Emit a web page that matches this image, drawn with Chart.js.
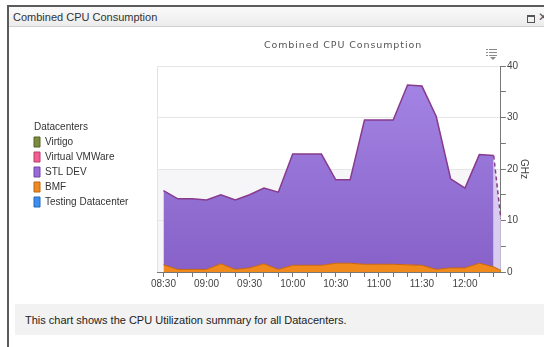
<!DOCTYPE html>
<html>
<head>
<meta charset="utf-8">
<title>Combined CPU Consumption</title>
<script src="https://cdn.jsdelivr.net/npm/chart.js@4.4.1/dist/chart.umd.min.js"></script>
<style>
  html, body { margin: 0; padding: 0; background: #fff; }
  body { width: 544px; height: 347px; overflow: hidden; position: relative; font-family: 'Liberation Sans', Arial, sans-serif; }
  .panel { position: absolute; left: 7px; top: 5px; width: 560px; height: 360px; border-left: 2px solid #5b5b5b; border-top: 2px solid #5b5b5b; }
  .panel-head { position: absolute; left: 0; top: 0; width: 100%; height: 19px; background: linear-gradient(#fafafa, #ececec); border-bottom: 1px solid #d0d0d0; }
  .panel-head span { position: absolute; left: 4px; top: 0; line-height: 20px; font-size: 11px; color: #333; }
  .btn-max { position: absolute; left: 518px; top: 8px; width: 6px; height: 5px; border: 1px solid #555; border-top-width: 2px; }
  .btn-close { position: absolute; left: 529px; top: 2px; font-size: 12px; color: #555; line-height: 16px; }
  #wrap { position: absolute; left: 10px; top: 28px; width: 534px; height: 272px; }
  .menu { position: absolute; left: 486px; top: 49px; }
  .footer { position: absolute; left: 15px; top: 304px; width: 540px; height: 31px; background: #f2f2f2; }
  .footer span { position: absolute; left: 10px; top: 0; line-height: 33px; font-size: 11px; color: #222; }
</style>
</head>
<body>
<div class="panel">
  <div class="panel-head"><span>Combined CPU Consumption</span><div class="btn-max"></div><div class="btn-close">&#x2715;</div></div>
</div>
<div id="wrap"><canvas id="cpu-chart" width="534" height="272"></canvas></div>
<svg class="menu" width="12" height="11" viewBox="0 0 12 11">
  <g fill="#8a8a8a">
    <rect x="0" y="0" width="2" height="1"/><rect x="3" y="0" width="8" height="1"/>
    <rect x="0" y="3" width="2" height="1"/><rect x="3" y="3" width="8" height="1"/>
    <rect x="0" y="6" width="2" height="1"/><rect x="3" y="6" width="8" height="1"/>
    <path d="M4 8 L10 8 L7 11 Z"/>
  </g>
</svg>
<div class="footer"><span>This chart shows the CPU Utilization summary for all Datacenters.</span></div>

<script>
// sample times (10 minute samples, last one is a partial interval)
const times = ['08:30', '08:40', '08:50', '09:00', '09:10', '09:20', '09:30', '09:40', '09:50',
  '10:00', '10:10', '10:20', '10:30', '10:40', '10:50', '11:00', '11:10', '11:20', '11:30',
  '11:40', '11:50', '12:00', '12:10', '12:20', '12:25'];

// GHz per datacenter
const stlDev = [14.4, 13.7, 13.7, 13.5, 13.4, 13.5, 14.2, 14.7, 15.0, 21.6, 21.6, 21.6, 16.2,
  16.2, 28.0, 28.0, 28.0, 34.9, 34.8, 29.7, 17.3, 15.5, 21.1, 21.6, 10.0];
const bmf = [1.4, 0.5, 0.5, 0.5, 1.6, 0.5, 0.8, 1.6, 0.5, 1.3, 1.3, 1.3, 1.7, 1.7, 1.5, 1.5,
  1.5, 1.4, 1.3, 0.5, 0.8, 0.8, 1.7, 1.0, 0.3];
const virtigo = [];
const virtualVmware = [];
const testingDc = [];

const xLabels = ['08:30', '09:00', '09:30', '10:00', '10:30', '11:00', '11:30', '12:00'];
const yLabels = [0, 10, 20, 30, 40];
const plotBand = [0, 20];

function toMin(t) {
  const [h, m] = t.split(':').map(Number);
  return h * 60 + m;
}

function fmt(v) {
  const h = Math.floor(v / 60), m = v % 60;
  return String(h).padStart(2, '0') + ':' + String(m).padStart(2, '0');
}

function points(values) {
  return values.map((v, i) => ({ x: toMin(times[i]), y: v }));
}

const lastIdx = times.length - 1;

// light band behind the lower half of the plot plus the left frame line
const plotFrame = {
  id: 'plotFrame',
  beforeDraw(chart) {
    const { ctx, chartArea: a, scales: { y } } = chart;
    ctx.save();
    const top = y.getPixelForValue(plotBand[1]);
    const bottom = y.getPixelForValue(plotBand[0]);
    ctx.fillStyle = '#f6f6f8';
    ctx.fillRect(a.left, top, a.right - a.left, bottom - top);
    ctx.strokeStyle = '#e3e3e3';
    ctx.lineWidth = 1;
    ctx.beginPath();
    ctx.moveTo(a.left + 0.5, a.top);
    ctx.lineTo(a.left + 0.5, a.bottom);
    ctx.stroke();
    ctx.restore();
  }
};

// fixed width legend column with a heading over the swatches
const legendColumn = {
  id: 'legendColumn',
  beforeUpdate(chart) {
    const legend = chart.legend;
    if (legend && !legend.$fixedWidth) {
      const fit = legend.fit;
      legend.fit = function () {
        fit.call(this);
        this.width = chart.options.plugins.legendColumn.width;
      };
      legend.$fixedWidth = true;
    }
  },
  afterLayout(chart, args, opts) {
    chart.legend.top += opts.shiftY;
    chart.legend.bottom += opts.shiftY;
  },
  afterDraw(chart, args, opts) {
    const box = chart.legend.legendHitBoxes[0];
    if (!box) return;
    const ctx = chart.ctx;
    ctx.save();
    ctx.font = '10px "Liberation Sans", Arial, sans-serif';
    ctx.fillStyle = '#333';
    ctx.textBaseline = 'middle';
    ctx.fillText(opts.heading, box.left, box.top + box.height / 2 - opts.headingGap);
    ctx.restore();
  }
};

// chart title centred over the plot and its value axis
const chartTitle = {
  id: 'chartTitle',
  afterDraw(chart, args, opts) {
    const { ctx, chartArea: a, scales: { y } } = chart;
    ctx.save();
    ctx.font = '9.5px "DejaVu Sans", Verdana, sans-serif';
    ctx.letterSpacing = '0.9px';
    ctx.fillStyle = '#555';
    ctx.textAlign = 'center';
    ctx.textBaseline = 'middle';
    ctx.fillText(opts.text, (a.left + y.right) / 2, opts.y);
    ctx.restore();
  }
};

function stlFill(ctx) {
  const area = ctx.chart.chartArea;
  if (!area) return '#9570d8';
  const g = ctx.chart.ctx.createLinearGradient(0, area.top, 0, area.bottom);
  g.addColorStop(0, '#a587e6');
  g.addColorStop(1, '#8761c8');
  return g;
}

const datasets = [
  { label: 'Testing Datacenter', data: points(testingDc), swatch: '#3d8fef', swatchBorder: '#2466b8',
    backgroundColor: '#3d8fef', borderColor: '#2466b8', borderWidth: 0, fill: false },
  { label: 'BMF', data: points(bmf), swatch: '#ef8a22', swatchBorder: '#b8650f',
    backgroundColor: '#f08a1c', borderColor: '#c8640e', borderWidth: 1, fill: 'origin' },
  { label: 'STL DEV', data: points(stlDev), swatch: '#9a6ad8', swatchBorder: '#6e45a8',
    backgroundColor: stlFill, borderColor: '#873a8e', borderWidth: 1.5, fill: '-1',
    segment: {
      borderDash: ctx => ctx.p1DataIndex === lastIdx ? [4, 3] : undefined,
      backgroundColor: ctx => ctx.p1DataIndex === lastIdx ? '#d8cdef' : undefined
    } },
  { label: 'Virtual VMWare', data: points(virtualVmware), swatch: '#f45c93', swatchBorder: '#b83c68',
    backgroundColor: '#f45c93', borderColor: '#b83c68', borderWidth: 0, fill: false },
  { label: 'Virtigo', data: points(virtigo), swatch: '#7d8c3c', swatchBorder: '#566228',
    backgroundColor: '#7d8c3c', borderColor: '#566228', borderWidth: 0, fill: false }
];

new Chart(document.getElementById('cpu-chart'), {
  type: 'line',
  data: { datasets: datasets },
  options: {
    responsive: false,
    animation: false,
    events: [],
    devicePixelRatio: 1,
    layout: { padding: { left: 19, right: 15, top: 38, bottom: 9 } },
    elements: {
      point: { radius: 0 },
      line: { tension: 0 }
    },
    plugins: {
      title: { display: false },
      tooltip: { enabled: false },
      legend: {
        position: 'left',
        align: 'center',
        fullSize: false,
        reverse: true,
        labels: {
          boxWidth: 6,
          boxHeight: 10,
          padding: 5,
          color: '#333',
          font: { family: '"Liberation Sans", Arial, sans-serif', size: 10 },
          generateLabels(chart) {
            const items = Chart.defaults.plugins.legend.labels.generateLabels(chart);
            items.forEach(it => {
              const ds = chart.data.datasets[it.datasetIndex];
              it.fillStyle = ds.swatch;
              it.strokeStyle = ds.swatchBorder;
              it.lineWidth = 1;
              it.lineDash = [];
            });
            return items;
          }
        }
      },
      legendColumn: { width: 128, heading: 'Datacenters', headingGap: 15, shiftY: 3 },
      chartTitle: { text: 'Combined CPU Consumption', y: 18 }
    },
    scales: {
      x: {
        type: 'linear',
        min: toMin(times[0]) - 4.5,
        max: toMin(times[lastIdx]),
        // one tick per 10 minutes starting at the first sample
        afterBuildTicks(axis) {
          const ticks = [];
          for (let v = toMin(times[0]); v <= axis.max; v += 10) ticks.push({ value: v });
          axis.ticks = ticks;
        },
        ticks: {
          autoSkip: false,
          maxRotation: 0,
          padding: 1,
          color: '#444',
          font: { family: '"Liberation Sans", Arial, sans-serif', size: 10 },
          callback: v => xLabels.includes(fmt(v)) ? fmt(v) : ''
        },
        grid: { drawOnChartArea: false, tickLength: 5, tickColor: '#777' },
        border: { color: '#777' }
      },
      y: {
        position: 'right',
        stacked: true,
        min: 0,
        max: 40,
        ticks: {
          stepSize: 5,
          padding: 1,
          color: '#444',
          font: { family: '"Liberation Sans", Arial, sans-serif', size: 10 },
          callback: v => yLabels.includes(v) ? v : ''
        },
        grid: {
          tickLength: 5,
          tickColor: '#777',
          color: ctx => ctx.tick && ctx.tick.value > 0 && yLabels.includes(ctx.tick.value) ? '#e6e6e6' : 'transparent'
        },
        border: { color: '#777' },
        title: {
          display: true,
          text: 'GHz',
          color: '#444',
          padding: 0,
          font: { family: '"Liberation Sans", Arial, sans-serif', size: 10, lineHeight: 1 }
        }
      }
    }
  },
  plugins: [plotFrame, legendColumn, chartTitle]
});
</script>
</body>
</html>
